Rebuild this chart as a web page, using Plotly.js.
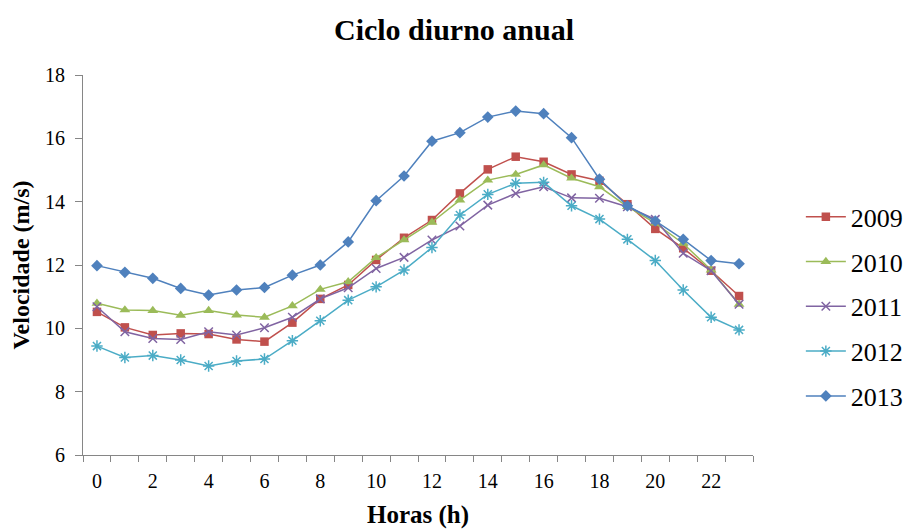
<!DOCTYPE html>
<html>
<head>
<meta charset="utf-8">
<script src="https://cdn.plot.ly/plotly-3.0.1.min.js"></script>
<style>html,body{margin:0;padding:0;background:#fff;}#chart{width:908px;height:529px;}</style>
</head>
<body>
<div id="chart"></div>
<script>
const hours = [0,1,2,3,4,5,6,7,8,9,10,11,12,13,14,15,16,17,18,19,20,21,22,23];
const tickHours = [0,2,4,6,8,10,12,14,16,18,20,22];
const seriesNames = ["2009","2010","2011","2012","2013"];
const y2009 = [10.52,10.03,9.79,9.84,9.82,9.65,9.58,10.18,10.93,11.37,12.16,12.86,13.42,14.26,15.02,15.42,15.26,14.86,14.66,13.92,13.14,12.53,11.82,11.02];
const y2010 = [10.79,10.58,10.56,10.41,10.56,10.42,10.35,10.71,11.23,11.47,12.23,12.79,13.35,14.05,14.68,14.86,15.16,14.74,14.47,13.84,13.32,12.68,11.84,10.76];
const y2011 = [10.68,9.89,9.68,9.65,9.89,9.79,10.02,10.35,10.93,11.28,11.89,12.24,12.79,13.23,13.89,14.26,14.47,14.12,14.11,13.84,13.44,12.37,11.82,10.76];
const y2012 = [9.44,9.08,9.14,9.00,8.81,8.97,9.03,9.61,10.24,10.89,11.31,11.84,12.55,13.58,14.23,14.58,14.61,13.87,13.45,12.81,12.14,11.21,10.35,9.95];
const y2013 = [11.98,11.77,11.58,11.26,11.05,11.21,11.29,11.68,12.00,12.73,14.03,14.81,15.91,16.18,16.67,16.86,16.78,16.02,14.71,13.87,13.39,12.81,12.14,12.04];

const values = [y2009,y2010,y2011,y2012,y2013];
const colors = ["#C0504D","#9BBB59","#8064A2","#4BACC6","#4F81BD"];
const symbols = ["square","triangle-up","x-thin-open","asterisk-open","diamond"];
const sizes = [8.5,9.5,8.5,9.5,9];

const traces = seriesNames.map((n,i)=>({
  x: hours, y: values[i], name: n, type: "scatter", mode: "lines+markers",
  legendgroup: n,
  line: {color: colors[i], width: 1.5},
  marker: {symbol: symbols[i], size: sizes[i], color: colors[i],
           line: {color: colors[i], width: (i===2||i===3)?1.5:0}}
}));

const serif = "Times New Roman";
const layout = {
  width: 908, height: 529,
  margin: {l: 83, r: 155, t: 75, b: 74},
  paper_bgcolor: "#fff", plot_bgcolor: "#fff",
  font: {family: serif, color: "#000", size: 20},
  title: {text: "<b>Ciclo diurno anual</b>", font: {family: serif, size: 30, color: "#000"},
          x: 0.5, xref: "container", xanchor: "center", y: 0.945, yref: "container", yanchor: "middle"},
  xaxis: {
    range: [-0.5, 23.5], showgrid: false, zeroline: false,
    showline: true, linecolor: "#868686", linewidth: 1,
    tickmode: "array", tickvals: tickHours, ticktext: tickHours.map(String),
    ticks: "outside", ticklen: 8, tickcolor: "rgba(0,0,0,0)",
    minor: {tickmode: "linear", tick0: -0.5, dtick: 1, ticks: "outside", ticklen: 6, tickcolor: "#868686", tickwidth: 1, showgrid: false},
    tickfont: {family: serif, size: 20, color: "#000"},
    title: {text: "<b>Horas (h)</b>", font: {family: serif, size: 25, color: "#000"}, standoff: 14}
  },
  yaxis: {
    range: [6, 18], showgrid: false, zeroline: false,
    showline: true, linecolor: "#868686", linewidth: 1,
    tickmode: "array", tickvals: [6,8,10,12,14,16,18],
    ticks: "outside", ticklen: 7, tickcolor: "#868686", tickwidth: 1,
    ticklabelstandoff: 6,
    tickfont: {family: serif, size: 20, color: "#000"},
    title: {text: "<b>Velocidade (m/s)</b>", font: {family: serif, size: 24, color: "#000"}, standoff: 8}
  },
  legend: {
    xref: "container", yref: "container",
    x: 0.882, xanchor: "left", y: 0.42, yanchor: "middle",
    font: {family: serif, size: 26, color: "#000"},
    traceorder: "grouped", tracegroupgap: 8, itemwidth: 40,
    bgcolor: "rgba(0,0,0,0)"
  },
  showlegend: true
};

Plotly.newPlot("chart", traces, layout, {displayModeBar: false, staticPlot: true});
</script>
</body>
</html>
